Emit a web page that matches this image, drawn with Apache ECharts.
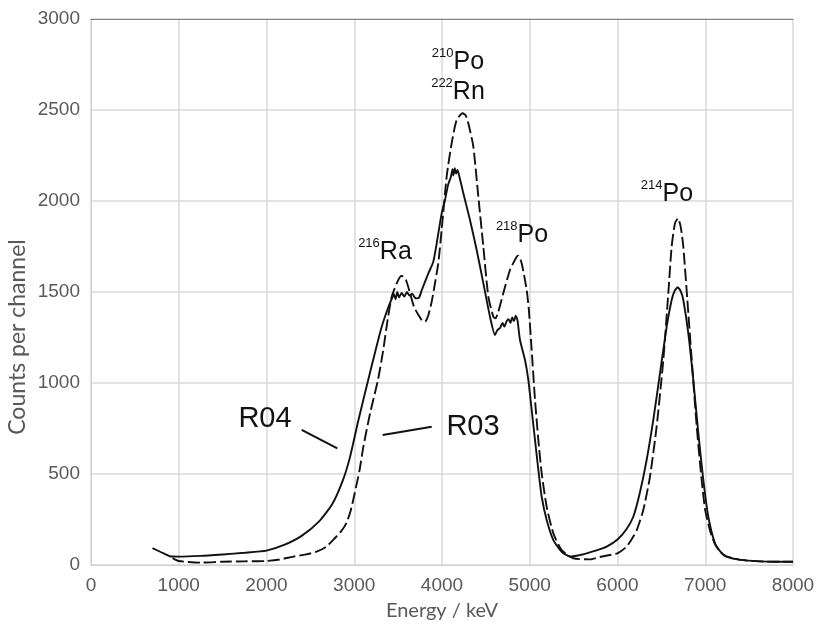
<!DOCTYPE html>
<html>
<head>
<meta charset="utf-8">
<script src="https://cdn.jsdelivr.net/npm/echarts@6/dist/echarts.min.js"></script>
<style>
html,body{margin:0;padding:0;background:#fff;}
#chart{width:816px;height:632px;}
</style>
</head>
<body>
<div id="chart"></div>
<script>
// ---- data ----
const xTicks = [0, 1000, 2000, 3000, 4000, 5000, 6000, 7000, 8000];
const yTicks = [0, 500, 1000, 1500, 2000, 2500, 3000];

const r04Energy = [700,800,900,1000,1250,1500,1750,2000,2200,2400,2600,2750,2870,2950,3040,3103,3215,3313,3390,3430,3450,3470,3490,3510,3540,3570,3600,3630,3660,3690,3712,3740,3770,3845,3900,3940,3996,4034,4070,4100,4120,4130,4145,4160,4175,4190,4215,4243,4319,4395,4471,4547,4604,4630,4661,4690,4710,4737,4760,4780,4800,4820,4840,4860,4889,4946,4984,5022,5060,5098,5136,5193,5269,5364,5459,5550,5649,5760,5877,6000,6100,6180,6256,6332,6408,6484,6560,6617,6650,6686,6720,6750,6807,6864,6921,6978,7035,7111,7180,7244,7400,7624,7800,8000];
const r04Counts = [93,70,48,46,50,58,67,79,110,160,240,335,465,590,780,907,1126,1309,1419,1465,1490,1460,1500,1470,1495,1475,1500,1480,1490,1470,1465,1470,1511,1603,1665,1768,1932,2005,2090,2130,2175,2140,2180,2150,2170,2150,2100,2042,1896,1731,1549,1364,1264,1290,1302,1330,1310,1340,1350,1330,1360,1340,1370,1345,1236,1126,1016,852,687,522,375,247,137,73,46,52,64,80,101,140,195,265,400,577,797,1053,1309,1456,1505,1526,1505,1456,1273,1016,725,467,265,119,70,46,28,20,18,18];

const r03Energy = [930,1000,1250,1500,1750,2000,2150,2305,2450,2571,2680,2758,2850,2910,2960,3005,3060,3104,3180,3270,3330,3380,3427,3484,3533,3560,3590,3636,3680,3730,3787,3815,3845,3880,3910,3958,3996,4053,4110,4167,4236,4270,4300,4357,4414,4471,4528,4585,4610,4642,4699,4775,4851,4870,4908,4965,4990,5022,5060,5098,5136,5193,5269,5364,5497,5687,5800,5915,6000,6104,6180,6218,6294,6370,6446,6522,6579,6617,6655,6690,6720,6750,6796,6846,6903,6959,7000,7060,7111,7180,7244,7400,7624,7800,8000];
const r03Counts = [38,22,13,18,20,22,30,46,58,73,100,137,185,230,300,394,520,650,833,1016,1180,1346,1474,1548,1588,1585,1566,1494,1420,1375,1337,1340,1374,1440,1520,1660,1841,2134,2317,2445,2482,2470,2427,2299,2024,1749,1474,1364,1355,1392,1494,1621,1694,1700,1658,1511,1400,1181,907,687,504,320,174,82,37,31,44,55,64,101,156,190,302,485,760,1126,1493,1749,1877,1905,1859,1749,1456,1126,760,467,300,180,115,68,46,28,20,18,18];

// annotation texts
const peakLabels = [
  { sup: ['210', '222'], main: ['Po', 'Rn'], at: [4182, 2681] },
  { sup: ['216'], main: ['Ra'], at: [3350, 1720] },
  { sup: ['218'], main: ['Po'], at: [4912, 1813] },
  { sup: ['214'], main: ['Po'], at: [6564, 2038] }
];
const seriesLabels = [
  { text: 'R04', at: [1983, 802], line: [[2401, 742], [2807, 641]] },
  { text: 'R03', at: [4353, 758], line: [[3324, 714], [3883, 760]] }
];
const xTitle = 'Energy / keV';
const yTitle = 'Counts per channel';

// ---- build ----
const zip = (xs, ys) => xs.map((x, i) => [x, ys[i]]);

const peakMarks = peakLabels.map(p => ({
  coord: p.at,
  symbolSize: 0,
  label: {
    show: true,
    position: 'inside',
    formatter: p.sup.map((s, i) => '{s|' + s + '}{m|' + p.main[i] + '}').join('\n'),
    rich: {
      s: { fontFamily: 'Liberation Sans', fontSize: 13, color: '#111', verticalAlign: 'top', lineHeight: 15 },
      m: { fontFamily: 'Liberation Sans', fontSize: 25, color: '#111', lineHeight: 30 }
    }
  }
}));
const nameMarks = seriesLabels.map(p => ({
  coord: p.at,
  symbolSize: 0,
  label: {
    show: true, position: 'inside', formatter: p.text,
    fontFamily: 'Liberation Sans', fontSize: 29, color: '#111'
  }
}));
const leaderLines = seriesLabels.map(p => [{ coord: p.line[0] }, { coord: p.line[1] }]);

const chart = echarts.init(document.getElementById('chart'), null, { renderer: 'canvas' });
const axisLabelStyle = { fontFamily: 'Liberation Sans', fontSize: 19, color: '#595959', formatter: v => String(v) };

chart.setOption({
  animation: false,
  backgroundColor: '#fff',
  grid: { left: 91, right: 23, top: 19, bottom: 67, containLabel: false, outerBoundsMode: 'none' },
  graphic: [{
    type: 'text', x: 18, y: 337, rotation: Math.PI / 2, silent: true,
    style: { text: yTitle, font: '23px Lato', fill: '#595959', align: 'center', verticalAlign: 'middle' }
  }],
  xAxis: [{
    type: 'value', min: xTicks[0], max: xTicks[xTicks.length - 1], interval: xTicks[1] - xTicks[0],
    name: xTitle, nameLocation: 'middle', nameGap: 36,
    nameTextStyle: { fontFamily: 'Lato', fontSize: 20, color: '#595959' },
    axisLine: { show: true, lineStyle: { color: '#cfcfcf', width: 1 } },
    axisTick: { show: false },
    axisLabel: Object.assign({ margin: 11 }, axisLabelStyle),
    splitLine: { show: true, lineStyle: { color: '#d9d9d9', width: 1.5 } }
  }, {
    type: 'value', position: 'top', min: 0, max: 8000,
    axisLine: { show: true, onZero: false, lineStyle: { color: '#7f7f7f', width: 1.2 } },
    axisTick: { show: false }, axisLabel: { show: false }, splitLine: { show: false }
  }],
  yAxis: {
    type: 'value', min: yTicks[0], max: yTicks[yTicks.length - 1], interval: yTicks[1] - yTicks[0],
    axisLine: { show: true, lineStyle: { color: '#cfcfcf', width: 1 } },
    axisTick: { show: false },
    axisLabel: Object.assign({ margin: 11 }, axisLabelStyle),
    splitLine: { show: true, lineStyle: { color: '#d9d9d9', width: 1.5 } }
  },
  series: [{
    name: 'R04', type: 'line', xAxisIndex: 0,
    data: zip(r04Energy, r04Counts),
    showSymbol: false, smooth: 0.2,
    lineStyle: { color: '#111', width: 1.9 },
    markPoint: { symbol: 'circle', symbolSize: 0, data: peakMarks.concat(nameMarks), silent: true },
    markLine: {
      symbol: ['none', 'none'], silent: true,
      lineStyle: { color: '#111', width: 2, type: 'solid' },
      label: { show: false },
      data: leaderLines
    }
  }, {
    name: 'R03', type: 'line', xAxisIndex: 0,
    data: zip(r03Energy, r03Counts),
    showSymbol: false, smooth: 0.2,
    lineStyle: { color: '#111', width: 1.9, type: [12, 4] }
  }]
});
</script>
</body>
</html>
